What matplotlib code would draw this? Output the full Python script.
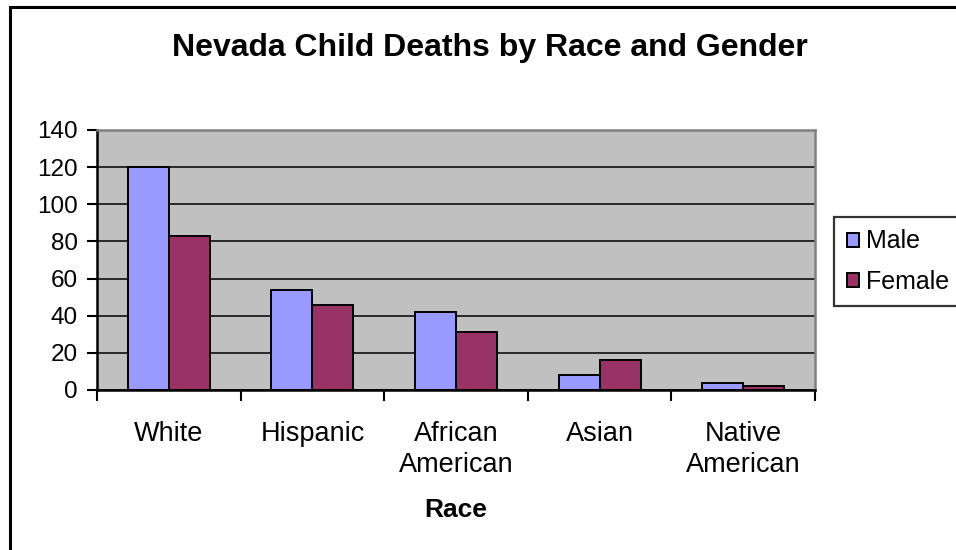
import numpy as np
import matplotlib.pyplot as plt
from matplotlib.patches import Rectangle

races = ["White", "Hispanic", "African\nAmerican", "Asian", "Native\nAmerican"]
male = [120, 54, 42, 8, 4]
female = [83, 46, 31, 16, 2]
y_ticks = [0, 20, 40, 60, 80, 100, 120, 140]

plt.rcParams['font.family'] = ['Liberation Sans', 'DejaVu Sans']

W, H = 956, 550
fig = plt.figure(figsize=(W / 100, H / 100), dpi=100)

# outer chart border (left and top edges show)
fig.patches.append(Rectangle((10 / W, -0.1), 1.2, 1 - 7 / H + 0.1,
                             transform=fig.transFigure, fill=False,
                             edgecolor='black', linewidth=2.2))

ax = fig.add_axes([97 / W, 1 - 390 / H, (815 - 97) / W, (390 - 130) / H])
ax.set_facecolor('#C0C0C0')

x = np.arange(len(races))
bw = 0.285
ax.bar(x - bw / 2, male, bw, color='#9999FF', edgecolor='black', linewidth=1.4,
       label='Male', zorder=3)
ax.bar(x + bw / 2, female, bw, color='#993366', edgecolor='black', linewidth=1.4,
       label='Female', zorder=3)

ax.set_xlim(-0.5, len(races) - 0.5)
ax.set_ylim(0, 140)
ax.set_yticks(y_ticks)
ax.yaxis.grid(True, color='black', linewidth=1.1, zorder=1)
ax.set_axisbelow(True)
ax.tick_params(axis='y', direction='out', length=7, width=1.5, labelsize=17.5, pad=7)

ax.set_xticks(x)
ax.set_xticklabels(races, fontsize=19.5, linespacing=1.25)
ax.set_xticks(np.arange(len(races) + 1) - 0.5, minor=True)
ax.tick_params(axis='x', which='major', length=0, pad=22)
ax.tick_params(axis='x', which='minor', direction='out', length=8, width=1.5)

for s in ['left', 'bottom']:
    ax.spines[s].set_color('black')
    ax.spines[s].set_linewidth(1.8)
for s in ['top', 'right']:
    ax.spines[s].set_color('#808080')
    ax.spines[s].set_linewidth(1.8)

fig.text(490 / W, 1 - 48 / H, "Nevada Child Deaths by Race and Gender",
         ha='center', va='center', fontsize=23, fontweight='bold')
fig.text(456 / W, 1 - 510 / H, "Race", ha='center', va='center',
         fontsize=19, fontweight='bold')

leg = fig.legend(loc='upper left', bbox_to_anchor=(834 / W, 1 - 217 / H),
                 fontsize=18, frameon=True, fancybox=False, borderpad=0.5,
                 handlelength=0.5, handleheight=0.5, handletextpad=0.3,
                 labelspacing=0.65, borderaxespad=0)
leg.get_frame().set_edgecolor('black')
leg.get_frame().set_linewidth(1.6)

fig.savefig('out.png', dpi=100)
